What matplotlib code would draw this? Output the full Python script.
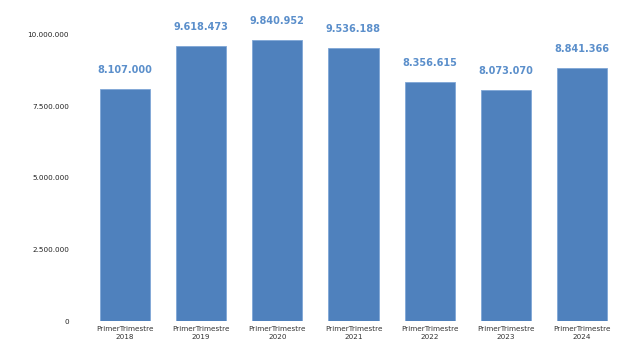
import matplotlib
matplotlib.use("Agg")
import matplotlib.pyplot as plt
from matplotlib.ticker import FuncFormatter

categories = ["PrimerTrimestre\n2018", "PrimerTrimestre\n2019", "PrimerTrimestre\n2020",
              "PrimerTrimestre\n2021", "PrimerTrimestre\n2022", "PrimerTrimestre\n2023",
              "PrimerTrimestre\n2024"]
values = [8107000, 9618473, 9840952, 9536188, 8356615, 8073070, 8841366]
yticks = [0, 2500000, 5000000, 7500000, 10000000]

def fmt(v):
    return f"{int(v):,}".replace(",", ".")

fig = plt.figure(figsize=(6.38, 3.6), dpi=100)
ax = fig.add_axes([87/638, 39/360, 533/638, 300.3/360])
x = range(len(values))
ax.bar(x, values, width=0.66, color="#4F81BD", edgecolor="#7FA6D6", linewidth=0.6)
ax.set_xlim(-0.5, len(values) - 0.5)
ax.set_ylim(0, 10500000)
ax.set_yticks(yticks)
ax.yaxis.set_major_formatter(FuncFormatter(lambda v, p: fmt(v)))
ax.set_xticks(list(x))
ax.set_xticklabels(categories, fontsize=5.2, color="#333333", linespacing=1.4)
ax.tick_params(axis="y", labelsize=5.2, labelcolor="#222222", length=0, pad=13)
ax.tick_params(axis="x", length=0, pad=3.5)
for s in ax.spines.values():
    s.set_visible(False)
for i, v in enumerate(values):
    ax.annotate(fmt(v), (i, v), xytext=(0, 10), textcoords="offset points",
                ha="center", va="bottom", fontsize=7, fontweight="bold", color="#5B8FCB")
fig.savefig("out.png", dpi=100)
